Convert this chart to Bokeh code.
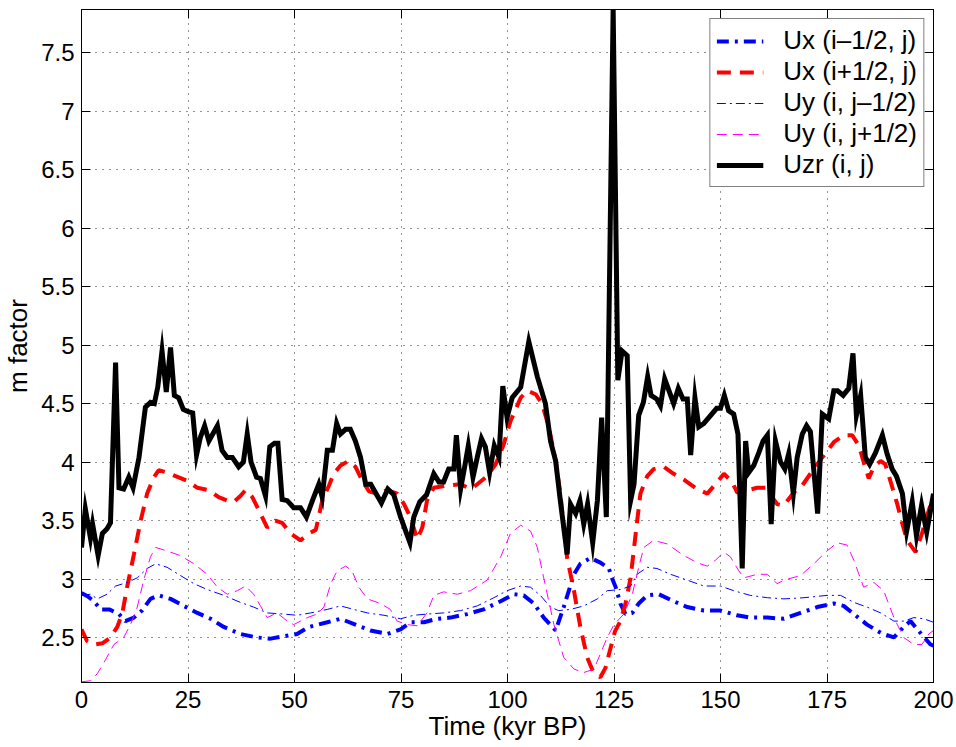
from bokeh.plotting import figure
from bokeh.models import Range1d, FixedTicker, LinearAxis, NumeralTickFormatter, Legend, LegendItem
from bokeh.embed import file_html
from bokeh.resources import INLINE

# ---------------- data ----------------
x_ticks = [0, 25, 50, 75, 100, 125, 150, 175, 200]
y_ticks = [2.5, 3, 3.5, 4, 4.5, 5, 5.5, 6, 6.5, 7, 7.5]

series_labels = ["Ux (i\u20131/2, j)", "Ux (i+1/2, j)", "Uy (i, j\u20131/2)", "Uy (i, j+1/2)", "Uzr (i, j)"]

# Ux (i-1/2, j)
uxm_t = [0, 1.5, 2.9, 4.5, 6.5, 8.8, 10.3, 12.3, 14.2, 16.2, 18.1, 20.9, 24.0, 27.2, 30.3, 33.4, 37.3, 41.2,
         44.4, 47.5, 50.6, 53.4, 57.7, 60.8, 64.3, 67.8, 71.8, 74.9, 77.2, 80.4, 83.5, 86.6, 90.5, 94.4, 98.4,
         101.5, 103.8, 106.2, 108.5, 111.3, 113.2, 115.6, 117.1, 119.5, 121.8, 123.8, 124.4, 125.4, 126.5,
         127.7, 129.3, 130.8, 132.8, 135.5, 139.0, 142.2, 146.1, 150.0, 153.9, 157.0, 161.0, 164.9, 168.8,
         172.7, 176.6, 178.9, 181.3, 184.4, 187.6, 190.7, 193.0, 194.6, 196.9, 199.3, 200]
uxm_m = [2.88, 2.85, 2.81, 2.74, 2.74, 2.70, 2.64, 2.67, 2.73, 2.83, 2.86, 2.83, 2.77, 2.71, 2.66, 2.59, 2.53, 2.50,
         2.49, 2.51, 2.53, 2.59, 2.63, 2.66, 2.61, 2.56, 2.53, 2.57, 2.63, 2.63, 2.66, 2.67, 2.70, 2.74, 2.81,
         2.87, 2.86, 2.79, 2.67, 2.56, 2.76, 3.04, 3.13, 3.18, 3.14, 3.09, 3.02, 2.93, 2.79,
         2.70, 2.71, 2.79, 2.86, 2.87, 2.81, 2.76, 2.73, 2.73, 2.69, 2.67, 2.67, 2.66, 2.71,
         2.76, 2.79, 2.77, 2.70, 2.61, 2.54, 2.50, 2.59, 2.64, 2.54, 2.44, 2.43]

# Ux (i+1/2, j)
uxp_t = [0, 1.3, 2.9, 4.9, 6.8, 8.4, 9.6, 10.7, 12.3, 13.9, 15.4, 17.0, 18.1, 20.1, 22.1, 24.8, 27.2, 29.9, 32.2,
         34.2, 35.8, 37.3, 38.5, 40.1, 41.6, 43.6, 45.5, 47.1, 49.1, 51.4, 53.4, 55.0, 56.5, 58.1, 59.2, 60.8,
         62.7, 64.3, 65.9, 67.5, 69.4, 71.8, 74.1, 75.7, 77.2, 78.8, 80.0, 81.1, 82.7, 85.8, 89.0, 91.3, 92.9,
         95.2, 97.2, 99.1, 100.7, 103.1, 104.6, 106.6, 108.1, 109.7, 111.3, 112.4, 114.0, 115.6, 117.1, 118.7,
         120.3, 121.8, 123.0, 124.2, 125.2, 126.5, 127.7, 128.9, 130.0, 131.2, 132.8, 134.3, 136.7, 139.0,
         141.8, 144.5, 146.9, 148.8, 150.8, 152.7, 153.9, 155.5, 156.5, 158.6, 160.6, 163.3, 164.9, 167.2,
         169.2, 171.1, 173.9, 176.6, 178.9, 180.9, 182.5, 183.6, 184.8, 186.0, 187.6, 188.7, 190.2, 191.5,
         192.7, 193.8, 195.8, 197.3, 198.9, 200]
uxp_m = [2.57, 2.47, 2.44, 2.45, 2.50, 2.59, 2.71, 2.93, 3.21, 3.50, 3.73, 3.87, 3.93, 3.91, 3.88, 3.84, 3.78, 3.76, 3.70,
         3.67, 3.66, 3.71, 3.76, 3.70, 3.59, 3.44, 3.50, 3.48, 3.39, 3.33, 3.39, 3.42, 3.67, 3.80, 3.90, 3.97,
         4.01, 3.96, 3.84, 3.75, 3.73, 3.76, 3.73, 3.64, 3.53, 3.34, 3.44, 3.67, 3.78, 3.80, 3.81, 3.77, 3.81,
         3.88, 3.98, 4.15, 4.35, 4.55, 4.61, 4.58, 4.50, 4.30, 4.01, 3.73, 3.18, 2.90, 2.59, 2.33,
         2.19, 2.16, 2.24, 2.41, 2.55, 2.64, 2.79, 3.01, 3.36, 3.73, 3.88, 3.94, 3.96, 3.90,
         3.84, 3.77, 3.73, 3.81, 3.90, 3.83, 3.74, 3.74, 3.76, 3.78, 3.78, 3.64, 3.63, 3.74,
         3.80, 3.90, 4.04, 4.17, 4.23, 4.23, 4.14, 4.00, 3.86, 3.96, 4.01, 3.98, 3.80, 3.64,
         3.47, 3.33, 3.23, 3.39, 3.59, 3.70]

# Uy (i, j-1/2)
uym_t = [0, 2.1, 3.7, 6.0, 8.0, 10.7, 13.1, 15.4, 17.4, 20.1, 23.2, 26.4, 29.5, 33.4, 37.3, 40.4, 43.6, 47.5, 50.6,
         53.8, 57.7, 60.8, 63.9, 67.1, 71.0, 74.9, 78.0, 81.1, 85.0, 89.0, 92.9, 96.8, 99.9, 103.1, 105.4, 107.7,
         110.1, 112.0, 114.8, 117.9, 121.1, 123.4, 126.5, 128.9, 130.4, 132.8, 135.1, 138.3, 142.2, 146.1,
         150.0, 153.1, 157.0, 161.0, 164.9, 169.6, 175.0, 178.2, 181.3, 184.4, 187.6, 190.7, 193.0, 195.4,
         197.7, 200]
uym_m = [2.86, 2.87, 2.83, 2.87, 2.94, 2.97, 3.01, 3.09, 3.13, 3.10, 3.03, 2.96, 2.91, 2.86, 2.80, 2.76, 2.71, 2.70, 2.69,
         2.71, 2.74, 2.77, 2.74, 2.71, 2.69, 2.66, 2.69, 2.70, 2.71, 2.73, 2.77, 2.84, 2.90, 2.94, 2.93, 2.86,
         2.76, 2.73, 2.74, 2.77, 2.83, 2.90, 2.91, 2.94, 3.04, 3.10, 3.09, 3.04, 2.99, 2.94,
         2.94, 2.90, 2.86, 2.84, 2.83, 2.84, 2.86, 2.86, 2.80, 2.76, 2.71, 2.64, 2.64, 2.67,
         2.66, 2.63]

# Uy (i, j+1/2)
uyp_t = [0, 2.1, 3.7, 5.2, 7.6, 9.9, 11.5, 13.1, 14.6, 16.2, 17.4, 20.1, 23.2, 26.4, 29.5, 31.9, 34.2, 36.6, 38.5,
         40.4, 42.0, 43.6, 45.9, 48.3, 49.8, 53.0, 55.3, 56.9, 58.5, 60.0, 62.0, 63.5, 65.1, 67.1, 70.2, 72.5,
         74.1, 76.5, 78.8, 81.1, 82.7, 85.0, 88.2, 91.3, 95.2, 98.4, 100.7, 103.1, 105.4, 107.0, 108.5, 110.9,
         113.2, 115.6, 117.9, 120.3, 121.8, 123.4, 125.0, 127.3, 129.3, 130.8, 132.0, 134.3, 137.5, 141.4,
         144.5, 146.9, 148.8, 150.8, 152.3, 154.3, 155.5, 158.6, 161.0, 163.3, 164.9, 168.8, 171.9, 175.0,
         177.4, 179.7, 181.3, 183.6, 186.0, 188.3, 190.7, 193.0, 195.4, 197.3, 198.9, 200]
uyp_m = [2.12, 2.13, 2.19, 2.28, 2.44, 2.50, 2.61, 2.76, 2.99, 3.19, 3.27, 3.24, 3.20, 3.13, 3.04, 2.93, 2.87, 2.90, 2.94,
         2.87, 2.77, 2.67, 2.71, 2.64, 2.61, 2.67, 2.70, 2.76, 2.96, 3.07, 3.11, 3.07, 2.93, 2.83, 2.79, 2.74,
         2.64, 2.61, 2.60, 2.71, 2.86, 2.89, 2.87, 2.90, 2.99, 3.19, 3.39, 3.46, 3.41, 3.27, 3.01, 2.61,
         2.33, 2.23, 2.20, 2.23, 2.36, 2.50, 2.61, 2.70, 2.87, 3.10, 3.27, 3.33, 3.30, 3.20,
         3.14, 3.11, 3.16, 3.23, 3.19, 3.07, 3.01, 3.04, 3.04, 2.96, 2.99, 3.03, 3.13, 3.24,
         3.31, 3.29, 3.16, 2.93, 2.97, 2.90, 2.67, 2.50, 2.44, 2.44, 2.53, 2.56]

# Uzr (i, j)
uzr_t = [0, 0.9, 2.1, 2.6, 3.9, 4.9, 6.0, 6.8, 8.0, 8.8, 9.9, 11.1, 12.1, 13.5, 15.0, 16.2, 17.1, 17.9, 18.9, 19.9,
         20.9, 21.8, 22.8, 23.9, 25.2, 26.1, 27.0, 27.9, 28.9, 29.9, 31.9, 33.0, 34.2, 35.4, 36.9, 38.0, 38.9,
         39.8, 41.1, 42.0, 43.2, 44.2, 45.3, 46.1, 47.1, 48.3, 49.8, 51.4, 52.8, 54.2, 55.7, 56.5, 57.7, 58.9,
         59.9, 60.8, 62.0, 63.1, 64.3, 65.5, 66.7, 67.9, 70.4, 71.9, 73.3, 74.9, 76.1, 77.1, 78.0, 79.4, 81.0,
         82.7, 83.9, 85.0, 86.2, 87.4, 88.0, 89.0, 89.9, 90.8, 91.9, 92.9, 93.9, 94.8, 95.8, 96.9, 98.0, 98.9,
         99.9, 101.1, 103.1, 105.0, 107.0, 108.9, 110.1, 111.3, 112.4, 114.0, 114.8, 116.0, 117.0, 117.9,
         118.8, 120.0, 121.1, 122.1, 123.2, 124.8, 125.9, 126.9, 128.1, 128.9, 129.7, 130.8, 131.9, 132.9,
         133.7, 135.0, 135.9, 136.9, 137.9, 139.0, 140.1, 141.2, 142.2, 143.0, 144.0, 144.9, 146.1, 147.7,
         149.1, 150.0, 150.9, 151.9, 153.1, 154.1, 155.1, 155.9, 156.6, 157.8, 159.0, 160.0, 161.0, 161.9,
         162.9, 164.1, 165.1, 166.0, 167.1, 168.0, 169.2, 170.2, 171.1, 172.8, 173.9, 175.4, 176.6, 177.5,
         178.8, 180.1, 181.1, 181.9, 182.9, 184.0, 185.0, 186.4, 188.0, 189.1, 190.3, 191.3, 192.7, 193.7,
         195.0, 196.0, 197.2, 198.4, 200.0]
uzr_m = [3.27, 3.60, 3.35, 3.47, 3.20, 3.39, 3.43, 3.48, 4.85, 3.78, 3.77, 3.87, 3.78, 4.04, 4.47, 4.51, 4.50, 4.64, 4.95, 4.60,
         4.98, 4.57, 4.55, 4.45, 4.43, 4.42, 4.06, 4.21, 4.31, 4.18, 4.31, 4.10, 4.04, 4.04, 3.96, 4.00, 4.24,
         4.00, 3.87, 3.86, 3.71, 4.13, 4.16, 4.16, 3.68, 3.67, 3.61, 3.61, 3.53, 3.67, 3.81, 3.70, 4.10, 4.10,
         4.33, 4.24, 4.28, 4.28, 4.18, 4.04, 3.81, 3.81, 3.65, 3.77, 3.72, 3.53, 3.41, 3.31, 3.53, 3.66, 3.72,
         3.90, 3.83, 3.83, 3.94, 3.94, 4.23, 3.77, 3.95, 4.14, 3.87, 4.04, 4.20, 4.13, 3.91, 4.14, 4.04, 4.65,
         4.38, 4.55, 4.64, 5.03, 4.73, 4.50, 4.18, 4.01, 3.67, 3.21, 3.64, 3.56, 3.67, 3.47,
         3.64, 3.31, 3.67, 4.38, 3.53, 7.88, 4.70, 4.95, 4.91, 3.67, 3.81, 4.40, 4.51, 4.73,
         4.57, 4.54, 4.48, 4.71, 4.61, 4.50, 4.63, 4.54, 4.54, 4.06, 4.55, 4.30, 4.33, 4.40,
         4.46, 4.46, 4.57, 4.44, 4.41, 4.24, 3.09, 4.18, 3.91, 3.97, 4.08, 4.18, 4.23, 3.47,
         4.18, 4.00, 3.94, 4.07, 3.73, 4.04, 4.24, 4.31, 4.26, 3.56, 4.41, 4.37, 4.61, 4.61,
         4.57, 4.63, 4.93, 4.40, 4.57, 4.04, 3.98, 4.08, 4.23, 4.07, 3.94, 3.88, 3.73, 3.41,
         3.66, 3.37, 3.63, 3.40, 3.73]

# ---------------- figure ----------------
FONT = "Liberation Sans"
TICK_FS = "24px"
LABEL_FS = "26px"

p = figure(width=956, height=747, output_backend="svg", toolbar_location=None,
           x_range=Range1d(0, 200), y_range=Range1d(2.115, 7.87),
           min_border_left=81, min_border_right=23, min_border_top=9, min_border_bottom=65,
           background_fill_color="white", border_fill_color="white")
p.outline_line_color = "black"
p.outline_line_width = 1

def style_axis(ax, ticks, show_labels=True):
    ax.ticker = FixedTicker(ticks=ticks)
    ax.major_tick_in = 9
    ax.major_tick_out = 0
    ax.minor_tick_in = 0
    ax.minor_tick_out = 0
    ax.axis_line_color = "black"
    ax.major_tick_line_color = "black"
    ax.major_label_text_font = FONT
    ax.axis_label_text_font = FONT
    ax.axis_label_text_font_style = "normal"
    ax.axis_label_text_font_size = LABEL_FS
    ax.axis_label_text_color = "black"
    if show_labels:
        ax.major_label_text_font_size = TICK_FS
        ax.major_label_text_color = "black"
    else:
        ax.major_label_text_font_size = "1px"
        ax.major_label_text_color = None
        ax.major_label_standoff = 0

xax = p.xaxis[0]
yax = p.yaxis[0]
style_axis(xax, x_ticks)
style_axis(yax, y_ticks)
xax.axis_label = "Time (kyr BP)"
yax.axis_label = "m factor"
yax.formatter = NumeralTickFormatter(format="0.[0]")
xax.major_label_standoff = 8
xax.axis_label_standoff = 0
yax.major_label_standoff = 7
yax.axis_label_standoff = 5

top_ax = LinearAxis()
style_axis(top_ax, x_ticks, show_labels=False)
p.add_layout(top_ax, "above")
right_ax = LinearAxis()
style_axis(right_ax, y_ticks, show_labels=False)
p.add_layout(right_ax, "right")

for g, ticks in ((p.xgrid[0], x_ticks), (p.ygrid[0], y_ticks)):
    g.ticker = FixedTicker(ticks=ticks)
    g.grid_line_color = "black"
    g.grid_line_alpha = 0.85
    g.grid_line_width = 1
    g.grid_line_dash = "1 6"

r1 = p.line(uxm_t, uxm_m, line_color="#0000ff", line_width=4, line_dash="12 6 3 6")
r2 = p.line(uxp_t, uxp_m, line_color="#ff0000", line_width=4, line_dash="14 9")
r3 = p.line(uym_t, uym_m, line_color="#0000ff", line_width=1, line_dash="9 4 2 4")
r4 = p.line(uyp_t, uyp_m, line_color="#ff00ff", line_width=1, line_dash="10 6")
r5 = p.line(uzr_t, uzr_m, line_color="black", line_width=5, line_join="miter")

legend = Legend(items=[LegendItem(label=lbl, renderers=[r]) for lbl, r in zip(series_labels, [r1, r2, r3, r4, r5])],
                location="top_right", margin=9, padding=6, spacing=0,
                glyph_width=47, glyph_height=30, label_height=30, label_standoff=20,
                label_text_font=FONT, label_text_font_size="26px", label_text_color="black",
                border_line_color="black", border_line_width=1, background_fill_alpha=1.0)
p.add_layout(legend)

open("out.html", "w").write(file_html(p, INLINE))
